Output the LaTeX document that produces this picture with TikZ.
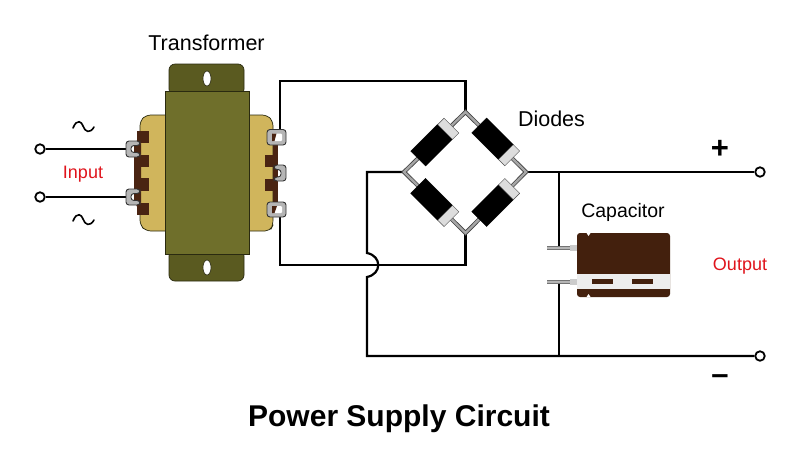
\documentclass[tikz,border=0pt]{standalone}
\usepackage{fontspec}
\setmainfont{Liberation Sans}
\usetikzlibrary{calc,shapes.geometric}
\definecolor{coreC}{HTML}{6F6F2B}
\definecolor{tabC}{HTML}{5A5A20}
\definecolor{bobC}{HTML}{D0B55C}
\definecolor{brownC}{HTML}{4A2412}
\definecolor{capC}{HTML}{43200D}
\definecolor{termC}{HTML}{B5B5B5}
\definecolor{bandC}{HTML}{DDDDDD}
\definecolor{outC}{HTML}{2A2A10}
\definecolor{redT}{HTML}{E0141C}
\tikzset{
 wire/.style={line width=2.2pt,black},
 term/.style={circle,draw=black,line width=1.8pt,fill=white,inner sep=0pt,minimum size=9.5pt},
 lead/.style={line width=4pt,black!75,line cap=round},
 leadin/.style={line width=2.4pt,black!35},
 label/.style={font=\fontsize{21.5}{24}\selectfont,inner sep=0pt,text=black},
 redlabel/.style={font=\fontsize{18}{20}\selectfont,inner sep=0pt,text=redT},
 dbody/.style={fill=black,draw=black,inner sep=0pt,minimum width=38pt,minimum height=21pt},
 dband/.style={fill=bandC,draw=black!70,line width=.4pt,inner sep=0pt,minimum width=9pt,minimum height=21pt},
 lobe/.style={fill=brownC,draw=none,inner sep=0pt,minimum width=12.5pt,minimum height=12.5pt},
 lug/.style={fill=termC,draw=black!80,line width=.9pt,rounded corners=3pt},
 tilde/.style={line width=1.6pt,black,line cap=round},
 slot/.style={ellipse,fill=white,draw=outC,line width=.6pt},
}
\newcommand{\diodeat}[3]{% from, to, angle
  \node[dbody,rotate=#3] at ($(#1)!0.448!(#2)$) {};
  \node[dband,rotate=#3] at ($(#1)!0.72!(#2)$) {};
}
\begin{document}
\begin{tikzpicture}[x=1pt,y=-1pt]
\useasboundingbox (0,0) rectangle (800,467);
\fill[white] (0,0) rectangle (800,467);

% ---- junctions
\coordinate (top) at (465.5,112);
\coordinate (right) at (526,172);
\coordinate (bot) at (465.5,233);
\coordinate (left) at (404,172);
\coordinate (s1) at (280,131);
\coordinate (s3) at (280,216);
\coordinate (c1) at (280,81);
\coordinate (c2) at (465.5,81);
\coordinate (c3) at (280,265);
\coordinate (c4) at (465.5,265);
\coordinate (j1) at (367,172);
\coordinate (j2) at (367,356);
\coordinate (j3) at (559,356);
\coordinate (j4) at (559,172);
\coordinate (hopA) at (367,253);
\coordinate (hopB) at (367,277);
\node[term] (in1) at (40,149) {};
\node[term] (in2) at (40,197) {};
\node[term] (out1) at (760,172) {};
\node[term] (out2) at (760,356) {};
\coordinate (p1) at (128,149);
\coordinate (p2) at (128,197);
\coordinate (capA) at (559,248);
\coordinate (capB) at (559,282);

% ---- wires
\draw[wire] (in1) -- (p1);
\draw[wire] (in2) -- (p2);
\draw[wire] (s1) -- (c1) -- (c2) -- (top);
\draw[wire] (s3) -- (c3) -- (c4) -- (bot);
\draw[wire] (left) -- (j1) -- (hopA) .. controls (382,256) and (382,274) .. (hopB) -- (j2) -- (j3) -- (out2);
\draw[wire] (right) -- (out1);
\draw[wire] (j4) -- (capA);
\draw[wire] (capB) -- (j3);

% ---- transformer: bobbin
\draw[fill=bobC,draw=outC,line width=.7pt,rounded corners=5pt] (160,115) -- (146,115) -- (140,121) -- (140,225) -- (146,231) -- (270,231) -- (273,225) -- (273,121) -- (267,115) -- cycle;
% left brown
\fill[brownC] (141,133) -- (134,146) -- (134,201) -- (141,214) -- (141,133);
\node[lobe] at (143,137) {};
\node[lobe] at (143,161) {};
\node[lobe] at (143,184.5) {};
\node[lobe] at (143,209) {};
% right brown
\fill[brownC] (273,139) rectangle (278,206);
\node[lobe] at (271,161) {};
\node[lobe] at (271,185) {};
% core
\draw[fill=tabC,draw=outC,line width=.7pt,rounded corners=6pt] (169,95) -- (169,64) -- (244,64) -- (244,95) -- cycle;
\draw[fill=tabC,draw=outC,line width=.7pt,rounded corners=6pt] (169,250) -- (169,281) -- (244,281) -- (244,250) -- cycle;
\draw[fill=coreC,draw=outC,line width=.7pt] (165,91) rectangle (249,254);
\node[slot,minimum width=8pt,minimum height=15pt,inner sep=0pt] at (207,78.5) {};
\node[slot,minimum width=8pt,minimum height=15pt,inner sep=0pt] at (207,267.5) {};
% left lugs
\draw[lug] (140,141) -- (126,141) -- (126,157) -- (140,157) -- (140,152.5) -- (131,152.5) -- (131,145.5) -- (140,145.5) -- cycle;
\draw[lug] (140,189) -- (126,189) -- (126,205) -- (140,205) -- (140,200.5) -- (131,200.5) -- (131,193.5) -- (140,193.5) -- cycle;
% right lugs
\draw[lug] (267,129.5) rectangle (286,145);
\fill[white,rounded corners=1pt] (272,133.5) rectangle (282,141);
\fill[brownC] (272,133.5) -- (276.5,133.5) -- (274.5,141) -- (272,141) -- cycle;
\draw[lug] (274,165) -- (286,165) -- (286,181) -- (274,181) -- (274,177) -- (281,177) -- (281,169.5) -- (274,169.5) -- cycle;
\draw[lug] (267,202) rectangle (286,217);
\fill[white,rounded corners=1pt] (272,206) rectangle (282,213);
\fill[brownC] (272,206) -- (277,206) -- (274.5,213) -- (272,213) -- cycle;

% ---- bridge
\draw[lead] (left) -- (top) -- (right) -- (bot) -- (left) -- cycle;
\draw[leadin] (left) -- (top) -- (right) -- (bot) -- (left) -- cycle;
\diodeat{left}{top}{45}
\diodeat{top}{right}{-45}
\diodeat{left}{bot}{-45}
\diodeat{bot}{right}{45}

% ---- capacitor
\draw[line width=3.4pt,black!55] (547,248) -- (570,248);
\draw[line width=2pt,termC] (547,248) -- (570,248);
\draw[line width=3.4pt,black!55] (547,282) -- (570,282);
\draw[line width=2pt,termC] (547,282) -- (570,282);
\fill[termC!70] (570,245) rectangle (577,251);
\fill[termC!70] (570,279) rectangle (577,285);
\fill[capC,rounded corners=3pt] (577,233) rectangle (670,297);
\fill[white!93!black] (577,274) rectangle (670,289);
\fill[capC] (592,279) rectangle (613,284);
\fill[capC] (632,279) rectangle (653,284);
\fill[white] (586.5,233) -- (590.5,233) -- (588.5,236) -- cycle;
\fill[white] (586.5,297) -- (590.5,297) -- (588.5,294) -- cycle;

% ---- tildes
\draw[tilde] (73,128) .. controls (77,118) and (82,122) .. (83,126) .. controls (85,132) and (90,134) .. (94,127);
\draw[tilde] (73,221) .. controls (77,211) and (82,215) .. (83,219) .. controls (85,225) and (90,227) .. (94,220);

% ---- text
\node[label] (tTransformer) at (206.5,42.5) {Transformer};
\node[label] (tDiodes) at (551.5,119) {Diodes};
\node[label,font=\fontsize{19.5}{24}\selectfont] (tCapacitor) at (623,212) {Capacitor};
\node[redlabel] (tInput) at (83,174) {Input};
\node[redlabel] (tOutput) at (740,266) {Output};
\node[inner sep=0pt,font=\fontsize{31}{32}\bfseries\selectfont] (tPlus) at (720,149) {+};
\node[inner sep=0pt,font=\fontsize{31}{32}\bfseries\selectfont] (tMinus) at (720,380) {–};
\node[inner sep=0pt,font=\fontsize{30}{32}\selectfont\bfseries] (tTitle) at (399,418.5) {Power Supply Circuit};
\end{tikzpicture}
\end{document}
